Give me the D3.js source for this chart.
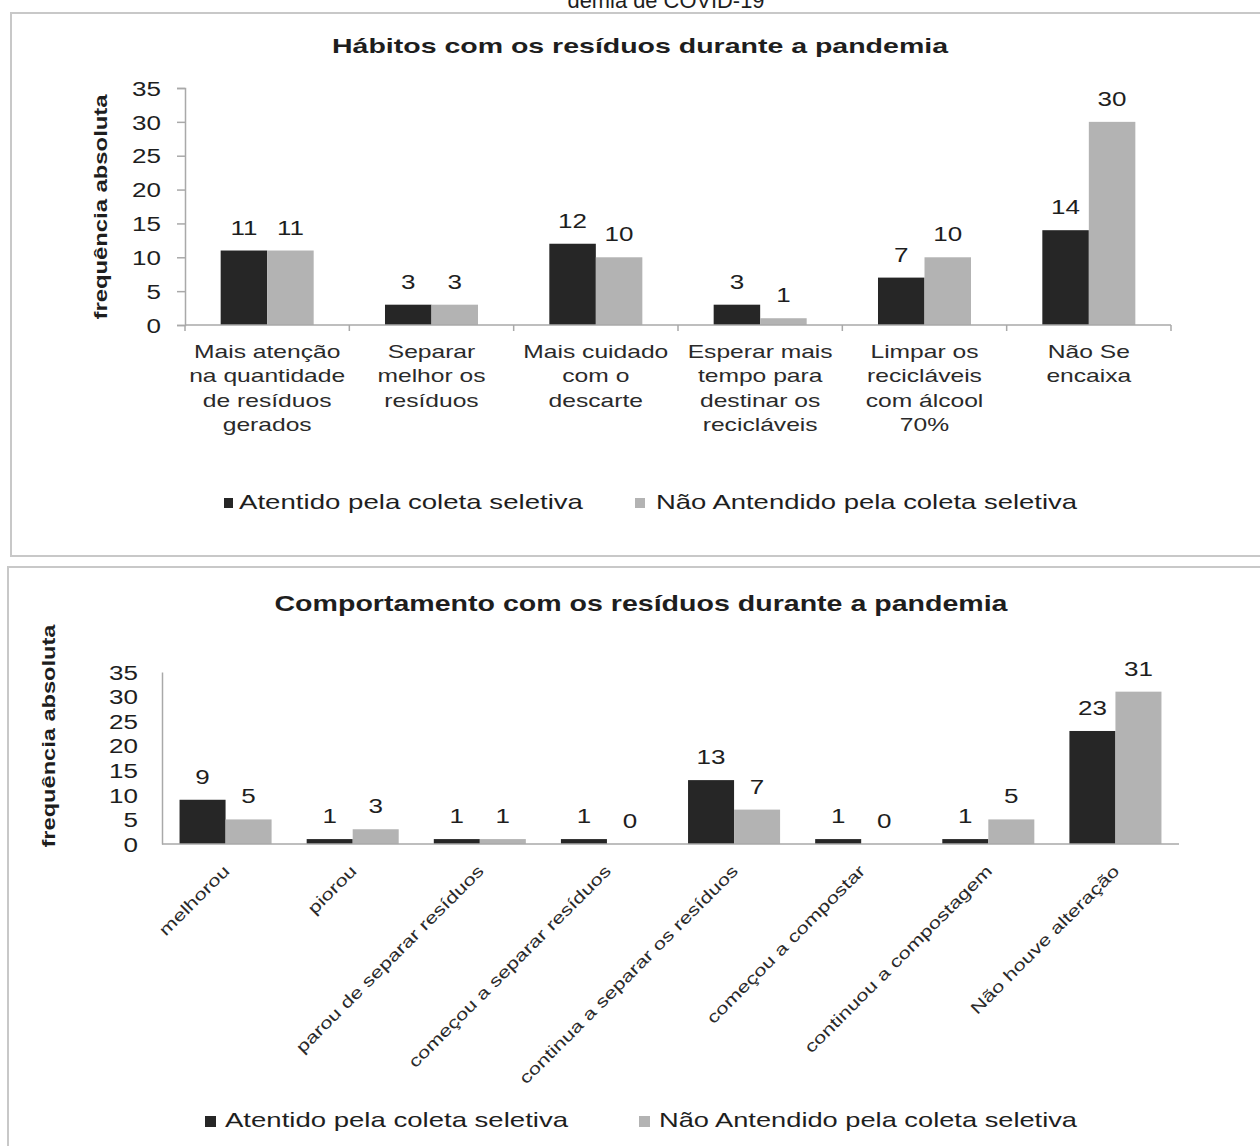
<!DOCTYPE html>
<html>
<head>
<meta charset="utf-8">
<script src="https://cdn.jsdelivr.net/npm/d3@7"></script>
<style>
  html, body { margin: 0; padding: 0; background: #ffffff; }
  svg { display: block; }
  text { font-family: "Liberation Sans", Arial, sans-serif; fill: #1e1e1e; }
</style>
</head>
<body>
<svg id="fig" width="1260" height="1146"></svg>
<script>
// ---- data ----
const seriesNames = ["Atentido pela coleta seletiva", "Não Antendido pela coleta seletiva"];
const seriesColors = ["#262626", "#b3b3b3"];

const habitCategories = [
  "Mais atenção\nna quantidade\nde resíduos\ngerados",
  "Separar\nmelhor os\nresíduos",
  "Mais cuidado\ncom o\ndescarte",
  "Esperar mais\ntempo para\ndestinar os\nrecicláveis",
  "Limpar os\nrecicláveis\ncom álcool\n70%",
  "Não Se\nencaixa"
];
const habitAtendido    = [11, 3, 12, 3, 7, 14];
const habitNaoAtendido = [11, 3, 10, 1, 10, 30];

const behaviorCategories = [
  "melhorou",
  "piorou",
  "parou de separar resíduos",
  "começou a separar resíduos",
  "continua a separar os resíduos",
  "começou a compostar",
  "continuou a compostagem",
  "Não houve alteração"
];
const behaviorAtendido    = [9, 1, 1, 1, 13, 1, 1, 23];
const behaviorNaoAtendido = [5, 3, 1, 0, 7, 0, 5, 31];

const yTicks = [0, 5, 10, 15, 20, 25, 30, 35];

// ---- helpers ----
const svg = d3.select("#fig");
const axisColor = "#a9a9a9";

// widen text horizontally by factor k (keeps anchor)
function widen(sel, k) {
  sel.each(function () {
    const n = this.getComputedTextLength();
    if (n > 0) {
      this.setAttribute("textLength", n * k);
      this.setAttribute("lengthAdjust", "spacingAndGlyphs");
    }
  });
  return sel;
}
function fit(sel, w) {
  sel.attr("textLength", w).attr("lengthAdjust", "spacingAndGlyphs");
  return sel;
}

// ---- caption line above the panels, and panel frames ----
svg.append("text")
  .attr("x", 666).attr("y", 8)
  .attr("text-anchor", "middle")
  .style("font-size", "22px")
  .text("demia de COVID-19")
  .call(s => fit(s, 197));

svg.append("rect")
  .attr("x", 11).attr("y", 13).attr("width", 1262).attr("height", 543)
  .attr("fill", "#fff").attr("stroke", "#c8c8c8").attr("stroke-width", 2);
svg.append("rect")
  .attr("x", 8).attr("y", 567).attr("width", 1262).attr("height", 600)
  .attr("fill", "#fff").attr("stroke", "#c8c8c8").attr("stroke-width", 2);

// ---- draw one grouped bar chart ----
function groupedBars(g, cats, a, b, x0, x1, yBase, yTop, pad) {
  const x = d3.scaleBand().domain(cats).range([x0, x1])
    .paddingInner(pad).paddingOuter(pad / 2);
  const xs = d3.scaleBand().domain([0, 1]).range([0, x.bandwidth()]);
  const y = d3.scaleLinear().domain([0, 35]).range([yBase, yTop]);
  const rows = cats.map((c, i) => ({ c, v: [a[i], b[i]] }));

  const grp = g.selectAll("g.cat").data(rows).join("g")
    .attr("class", "cat")
    .attr("transform", d => `translate(${x(d.c)},0)`);

  grp.selectAll("rect").data(d => d.v.map((v, s) => ({ v, s }))).join("rect")
    .attr("x", d => xs(d.s))
    .attr("width", xs.bandwidth())
    .attr("y", d => y(d.v))
    .attr("height", d => y(0) - y(d.v))
    .attr("fill", d => seriesColors[d.s]);

  const lbl = grp.selectAll("text.val").data(d => d.v.map((v, s) => ({ v, s }))).join("text")
    .attr("class", "val")
    .attr("x", d => xs(d.s) + xs.bandwidth() / 2)
    .attr("y", d => y(d.v) - 16)
    .attr("text-anchor", "middle")
    .style("font-size", "20px")
    .text(d => d.v);
  widen(lbl, 1.3);
  return { x, y };
}

// ---- top chart: hábitos ----
const topG = svg.append("g");
topG.append("text")
  .attr("x", 640).attr("y", 53).attr("text-anchor", "middle")
  .style("font-size", "21px").style("font-weight", "bold")
  .call(s => s.text("Hábitos com os resíduos durante a pandemia"))
  .call(s => fit(s, 616));

const t = groupedBars(topG, habitCategories, habitAtendido, habitNaoAtendido,
  185, 1171, 325, 88, 0.434);

// y axis
const tyAxis = topG.append("g").attr("transform", "translate(185,0)")
  .call(d3.axisLeft(t.y).tickValues(yTicks).tickSize(8).tickPadding(16));
tyAxis.select(".domain").attr("stroke", axisColor).attr("stroke-width", 1.5);
tyAxis.selectAll(".tick line").attr("stroke", axisColor).attr("stroke-width", 1.5);
tyAxis.selectAll(".tick text").attr("fill", "#1e1e1e")
  .style("font-size", "20px").style("font-family", "Liberation Sans, Arial, sans-serif")
  .attr("dy", "0.36em").call(s => widen(s, 1.3));

// x axis with boundary ticks
const txAxis = topG.append("g").attr("transform", "translate(0,325)");
txAxis.append("line").attr("x1", 185).attr("x2", 1171)
  .attr("stroke", axisColor).attr("stroke-width", 1.5);
const bounds = habitCategories.map(c => t.x(c) - t.x.step() * t.x.paddingInner() / 2)
  .concat([1171]);
txAxis.selectAll("line.tk").data(bounds).join("line")
  .attr("class", "tk")
  .attr("x1", d => d).attr("x2", d => d).attr("y1", 0).attr("y2", 6)
  .attr("stroke", axisColor).attr("stroke-width", 1.5);

// multi-line category labels
habitCategories.forEach(c => {
  const cx = t.x(c) + t.x.bandwidth() / 2;
  c.split("\n").forEach((line, i) => {
    topG.append("text")
      .attr("x", cx).attr("y", 358 + i * 24.3)
      .attr("text-anchor", "middle")
      .style("font-size", "18.5px").style("fill", "#2a2a2a")
      .text(line)
      .call(s => widen(s, 1.33));
  });
});

topG.append("text")
  .attr("x", 107).attr("y", 207)
  .attr("transform", "rotate(-90,107,207)")
  .attr("text-anchor", "middle")
  .style("font-size", "19px").style("font-weight", "bold")
  .text("frequência absoluta")
  .call(s => fit(s, 225));

// legend
function legend(g, ySq, yTxt, items) {
  items.forEach((it, i) => {
    g.append("rect").attr("x", it.sx).attr("y", ySq).attr("width", it.sw).attr("height", it.sh)
      .attr("fill", seriesColors[i]);
    g.append("text").attr("x", it.tx).attr("y", yTxt)
      .style("font-size", "21px")
      .text(seriesNames[i])
      .call(s => fit(s, it.tw));
  });
}
legend(topG, 498, 509, [
  { sx: 224, sw: 9, sh: 10, tx: 239, tw: 344 },
  { sx: 635, sw: 10, sh: 10, tx: 656, tw: 421 }
]);

// ---- bottom chart: comportamento ----
const botG = svg.append("g");
botG.append("text")
  .attr("x", 641).attr("y", 611).attr("text-anchor", "middle")
  .style("font-size", "22px").style("font-weight", "bold")
  .call(s => s.text("Comportamento com os resíduos durante a pandemia"))
  .call(s => fit(s, 733));

const b = groupedBars(botG, behaviorCategories, behaviorAtendido, behaviorNaoAtendido,
  162, 1179, 844, 672, 0.276);

const byAxis = botG.append("g").attr("transform", "translate(162,0)")
  .call(d3.axisLeft(b.y).tickValues(yTicks).tickSize(0).tickPadding(24));
byAxis.select(".domain").attr("stroke", axisColor).attr("stroke-width", 1.5);
byAxis.selectAll(".tick line").remove();
byAxis.selectAll(".tick text").attr("fill", "#1e1e1e")
  .style("font-size", "20px").style("font-family", "Liberation Sans, Arial, sans-serif")
  .attr("dy", "0.36em").call(s => widen(s, 1.3));

botG.append("line").attr("x1", 162).attr("x2", 1179).attr("y1", 844).attr("y2", 844)
  .attr("stroke", axisColor).attr("stroke-width", 1.5);

behaviorCategories.forEach(c => {
  const cx = b.x(c) + b.x.bandwidth() / 2 + 5;
  botG.append("text")
    .attr("x", cx).attr("y", 872)
    .attr("transform", `rotate(-45,${cx},872)`)
    .attr("text-anchor", "end")
    .style("font-size", "16.5px").style("fill", "#2a2a2a")
    .text(c)
    .call(s => widen(s, 1.33));
});

botG.append("text")
  .attr("x", 55).attr("y", 736)
  .attr("transform", "rotate(-90,55,736)")
  .attr("text-anchor", "middle")
  .style("font-size", "19px").style("font-weight", "bold")
  .text("frequência absoluta")
  .call(s => fit(s, 223));

legend(botG, 1116, 1127, [
  { sx: 205, sw: 11, sh: 11, tx: 225, tw: 343 },
  { sx: 639, sw: 11, sh: 11, tx: 659, tw: 418 }
]);
</script>
</body>
</html>
